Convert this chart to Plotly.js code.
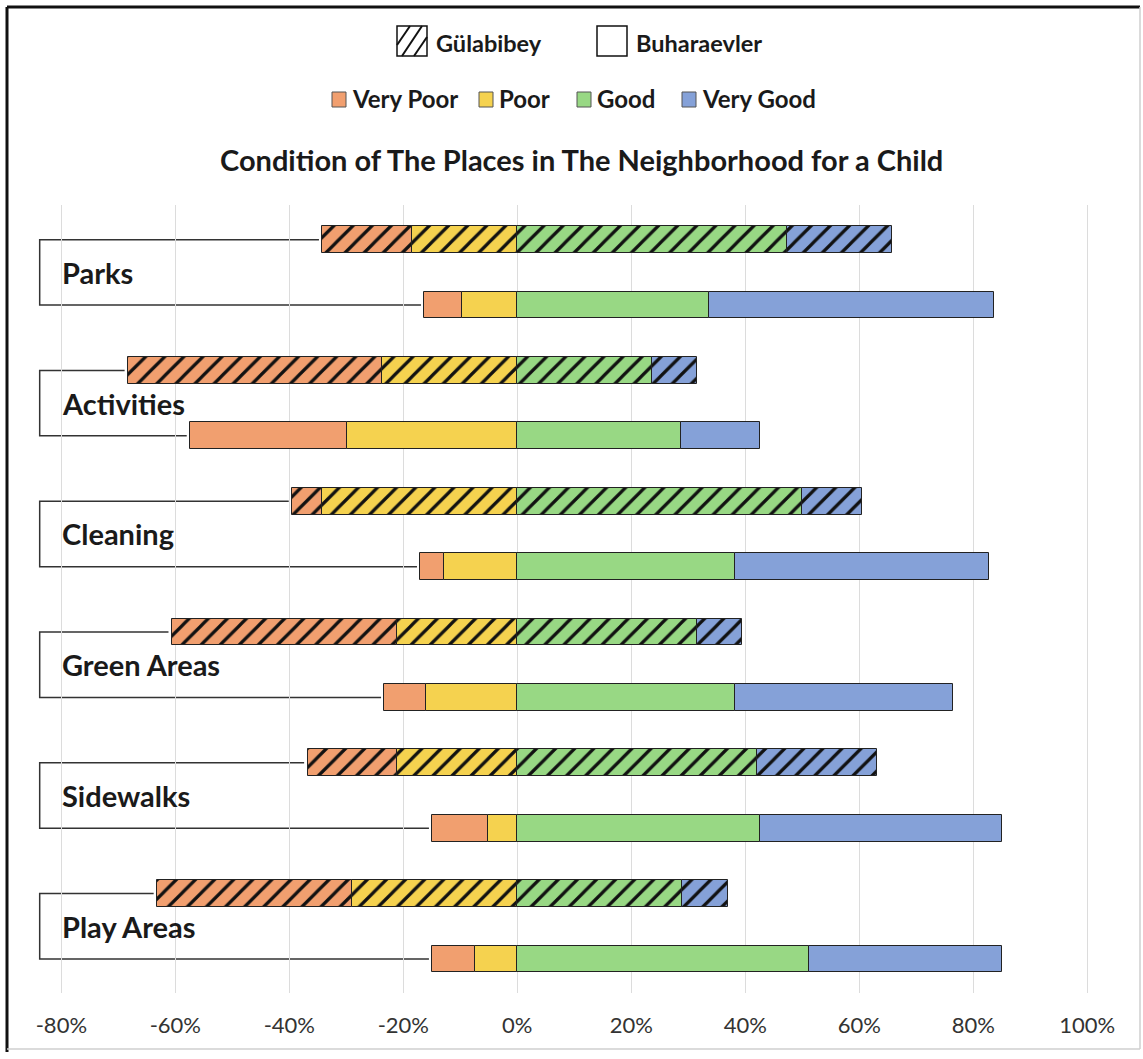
<!DOCTYPE html>
<html>
<head>
<meta charset="utf-8">
<script src="https://cdn.plot.ly/plotly-3.0.1.min.js"></script>
<style>html,body{margin:0;padding:0;background:#fff;}#chart{width:1143px;height:1059px;}</style>
</head>
<body>
<div id="chart"></div>
<script>
// ---- data (percent of respondents) ----
const categories = ['Parks', 'Activities', 'Cleaning', 'Green Areas', 'Sidewalks', 'Play Areas'];
const groups = ['Gülabibey', 'Buharaevler'];
const levels = ['Very Poor', 'Poor', 'Good', 'Very Good'];

const gulVeryPoor = [15.8, 44.6, 5.3, 39.5, 15.7, 34.2];
const gulPoor     = [18.4, 23.7, 34.2, 21.1, 21.1, 29.0];
const gulGood     = [47.3, 23.6, 50.0, 31.6, 42.0, 28.9];
const gulVeryGood = [18.5, 8.0, 10.5, 7.9, 21.1, 8.0];

const buhVeryPoor = [6.6, 27.6, 4.2, 7.3, 9.7, 7.4];
const buhPoor     = [9.7, 29.8, 12.8, 16.0, 5.2, 7.5];
const buhGood     = [33.6, 28.7, 38.2, 38.2, 42.5, 51.1];
const buhVeryGood = [50.1, 13.8, 44.6, 38.3, 42.6, 34.0];

const xTicks = [-80, -60, -40, -20, 0, 20, 40, 60, 80, 100];

// ---- styles ----
const colors = {'Very Poor': '#f19f6f', 'Poor': '#f5d24f', 'Good': '#98d884', 'Very Good': '#85a1d8'};
const FONT = 'Lato, "Open Sans", sans-serif';
const W = 1143, H = 1059;
const M = {l: 30, r: 33, t: 205, b: 66};
const BAR_W = 0.41;
const XMIN = -85.5, XMAX = 104;

const gulY = categories.map((c, i) => 2 * i);
const buhY = categories.map((c, i) => 2 * i + 1);

function barTrace(vals, yPos, level, hatched, negative) {
  const marker = {
    color: colors[level],
    line: {color: '#222', width: 1}
  };
  if (hatched) {
    marker.pattern = {shape: '/', fgcolor: '#111', bgcolor: colors[level], size: 13.5, solidity: 0.24, fillmode: 'replace'};
  }
  return {
    type: 'bar', orientation: 'h',
    x: vals.map(v => negative ? -v : v),
    y: yPos,
    width: BAR_W,
    marker: marker,
    name: level,
    showlegend: false,
    hovertemplate: (hatched ? groups[0] : groups[1]) + ' – ' + level + ': %{customdata}%<extra></extra>',
    customdata: vals
  };
}

const data = [
  barTrace(gulPoor, gulY, 'Poor', true, true),
  barTrace(gulVeryPoor, gulY, 'Very Poor', true, true),
  barTrace(gulGood, gulY, 'Good', true, false),
  barTrace(gulVeryGood, gulY, 'Very Good', true, false),
  barTrace(buhPoor, buhY, 'Poor', false, true),
  barTrace(buhVeryPoor, buhY, 'Very Poor', false, true),
  barTrace(buhGood, buhY, 'Good', false, false),
  barTrace(buhVeryGood, buhY, 'Very Good', false, false)
];

// pixel -> paper helpers (for legend / frame decorations)
const PW = W - M.l - M.r, PH = H - M.t - M.b;
const px = x => (x - M.l) / PW;
const py = y => (H - M.b - y) / PH;

const shapes = [];
const annotations = [];

// brackets linking the two bars of each category
const BRACKET_X = -83.8, GAP = 0.6;
categories.forEach((c, i) => {
  const gLeft = -(gulVeryPoor[i] + gulPoor[i]) - GAP;
  const bLeft = -(buhVeryPoor[i] + buhPoor[i]) - GAP;
  shapes.push({
    type: 'path', xref: 'x', yref: 'y', layer: 'below',
    path: `M ${gLeft},${gulY[i]} L ${BRACKET_X},${gulY[i]} L ${BRACKET_X},${buhY[i]} L ${bLeft},${buhY[i]}`,
    line: {color: '#333', width: 1.5}
  });
  annotations.push({
    xref: 'x', yref: 'y', x: -80.2, y: (gulY[i] + buhY[i]) / 2,
    xanchor: 'left', yanchor: 'middle', showarrow: false,
    text: '<b>' + c + '</b>',
    font: {family: FONT, size: 29, color: '#1a1a1a'}
  });
});

// group legend (row 1)
function rectPx(x0, y0, x1, y1, fill, lineColor, lw) {
  shapes.push({type: 'rect', xref: 'paper', yref: 'paper', x0: px(x0), x1: px(x1), y0: py(y1), y1: py(y0),
    fillcolor: fill, line: {color: lineColor, width: lw}});
}
function linePx(x0, y0, x1, y1, color, lw) {
  shapes.push({type: 'line', xref: 'paper', yref: 'paper', x0: px(x0), x1: px(x1), y0: py(y0), y1: py(y1),
    line: {color: color, width: lw}});
}
function textPx(x, y, text, size, anchor) {
  annotations.push({xref: 'paper', yref: 'paper', x: px(x), y: py(y), xanchor: anchor || 'left', yanchor: 'middle',
    showarrow: false, text: text, font: {family: FONT, size: size, color: '#1a1a1a'}});
}

rectPx(397, 26, 427, 56, '#fff', '#111', 1.5);
linePx(397, 45, 410, 26, '#111', 2);
linePx(402, 56, 422, 26, '#111', 2);
linePx(414, 56, 427, 37, '#111', 2);
textPx(434, 43, '<b>' + groups[0] + '</b>', 23.5);
rectPx(597, 26, 627, 56, '#fff', '#111', 1.5);
textPx(634, 43, '<b>' + groups[1] + '</b>', 23.5);

// level legend (row 2)
const legendX = {'Very Poor': 332, 'Poor': 479, 'Good': 577, 'Very Good': 682};
levels.forEach(l => {
  const x = legendX[l];
  rectPx(x, 92, x + 14, 107, colors[l], '#555', 1);
  textPx(x + 18, 99, '<b>' + l + '</b>', 24);
});

// title
textPx(581, 160, '<b>Condition of The Places in The Neighborhood for a Child</b>', 29, 'center');

// frame
linePx(7, 7, 1140, 7, '#111', 3);
linePx(7, 7, 7, 1052, '#111', 3);
linePx(1140, 7, 1140, 1049, '#cfcfcf', 1.5);
linePx(7, 1049, 1140, 1049, '#cfcfcf', 1.5);

const layout = {
  width: W, height: H,
  margin: M,
  paper_bgcolor: '#fff', plot_bgcolor: '#fff',
  barmode: 'relative',
  bargap: 0,
  showlegend: false,
  font: {family: FONT, color: '#222'},
  xaxis: {
    range: [XMIN, XMAX],
    tickvals: xTicks,
    ticktext: xTicks.map(v => v + '%'),
    showgrid: true, gridcolor: '#dcdcdc', gridwidth: 1,
    zeroline: false, showline: false, ticks: '',
    ticklabelstandoff: 17,
    tickfont: {family: FONT, size: 22, color: '#333'},
    fixedrange: true
  },
  yaxis: {
    range: [11.52, -0.53],
    showticklabels: false, showgrid: false, zeroline: false, showline: false,
    fixedrange: true
  },
  shapes: shapes,
  annotations: annotations
};

Plotly.newPlot('chart', data, layout, {displayModeBar: false, responsive: false});
</script>
</body>
</html>
